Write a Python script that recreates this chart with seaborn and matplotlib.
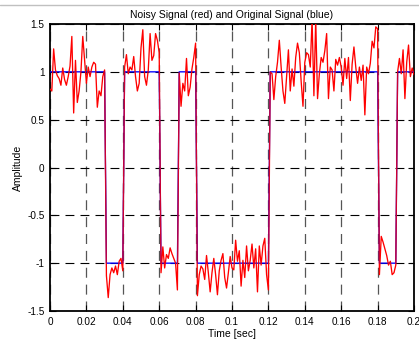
import numpy as np
import pandas as pd
import matplotlib
matplotlib.use("Agg")
import matplotlib.pyplot as plt
import seaborn as sns
from matplotlib.lines import Line2D

# ---------------- data ----------------
time_sec = np.linspace(0.0, 0.2, 201)

noisy_amplitude = [
    0.82, 0.80, 1.24, 1.02, 0.96, 0.93, 0.86, 1.04, 0.92, 0.86, 0.95, 1.06, 1.37, 0.57, 1.12, 0.68,
    0.80, 1.00, 1.37, 1.12, 0.88, 1.05, 0.95, 1.05, 1.10, 1.08, 0.63, 0.80, 0.75, 0.95, 1.02,
    -1.13, -1.36, -1.12, -1.05, -1.10, -1.03, -1.12, -0.98, -0.95, -1.08,
    1.05, 1.18, 0.98, 1.05, 1.02, 1.16, 0.95, 0.80, 0.88, 1.25, 1.44, 0.95, 0.86, 1.02, 1.40, 1.12,
    1.17, 1.40, 1.33, 1.20,
    -1.10, -0.83, -1.05, -0.91, -0.95, -0.84, -0.90, -0.95, -1.00, -1.28,
    0.99, 0.64, 0.88, 0.80, 1.14, 0.75, 0.84, 1.03, 1.15, 1.30,
    -1.34, -1.12, -1.03, -1.06, -1.17, -0.92, -1.10, -1.30, -1.10, -0.95, -1.12, -1.33, -1.08, -0.97,
    -0.90, -1.15, -1.26, -1.10, -0.93, -1.05, -1.07, -0.76, -0.98, -0.87, -1.24, -0.97, -1.15, -0.82,
    -1.08, -0.97, -0.80, -1.05, -0.85, -1.30, -0.82, -1.02, -0.82, -0.74, -1.12, -1.28,
    1.00, 0.98, 0.71, 0.95, 1.10, 1.33, 1.05, 0.80, 0.67, 0.95, 1.23, 0.80, 1.03, 0.85, 1.15, 1.30,
    1.20, 0.90, 0.64, 1.10, 1.20, 1.18, 1.05,
    1.55, 0.75, 1.55, 0.72, 0.98, 1.15, 1.10, 1.22, 1.40, 0.72, 1.05, 1.02, 0.80, 1.13, 1.07, 1.15,
    1.05, 0.86, 1.14, 0.93, 1.15, 0.70, 1.08, 1.26, 1.05, 0.88, 1.05, 0.91, 1.07, 0.55, 1.05, 0.98,
    1.09, 1.32, 1.25, 1.47, 1.45,
    -1.12, -0.72, -0.78, -0.85, -0.92, -1.02, -0.98, -1.12, -1.10, -1.02,
    1.00, 1.14, 0.98, 1.23, 0.72, 1.10, 1.28, 0.95, 1.04, 0.97,
]

original_t = [0.0, 0.030, 0.031, 0.040, 0.041, 0.060, 0.061, 0.070, 0.071, 0.080,
              0.081, 0.120, 0.121, 0.180, 0.181, 0.190, 0.191, 0.200]
original_v = [1, 1, -1, -1, 1, 1, -1, -1, 1, 1, -1, -1, 1, 1, -1, -1, 1, 1]

x_ticks = [0, 0.02, 0.04, 0.06, 0.08, 0.1, 0.12, 0.14, 0.16, 0.18, 0.2]
x_tick_labels = ["0", "0.02", "0.04", "0.06", "0.08", "0.1", "0.12", "0.14", "0.16", "0.18", "0.2"]
y_ticks = [-1.5, -1, -0.5, 0, 0.5, 1, 1.5]
y_tick_labels = ["-1.5", "-1", "-0.5", "0", "0.5", "1", "1.5"]

noisy_df = pd.DataFrame({"t": time_sec, "v": noisy_amplitude})
orig_df = pd.DataFrame({"t": original_t, "v": original_v})

# ---------------- style ----------------
sns.set_theme(style="white")
plt.rcParams["font.family"] = ["Liberation Sans", "DejaVu Sans"]

fig = plt.figure(figsize=(4.19, 3.41), dpi=100)
fig.patch.set_facecolor("white")
ax = fig.add_axes([50 / 419, 1 - 311 / 341, 364 / 419, 287 / 341])

# blue underneath, red noisy, then translucent blue on top (gives crimson edges)
sns.lineplot(data=orig_df, x="t", y="v", ax=ax, color="blue", linewidth=0.9,
             estimator=None, sort=False, zorder=3)
sns.lineplot(data=noisy_df, x="t", y="v", ax=ax, color="red", linewidth=0.95,
             estimator=None, sort=False, zorder=4)
sns.lineplot(data=orig_df, x="t", y="v", ax=ax, color="blue", linewidth=0.9,
             estimator=None, sort=False, alpha=0.2, zorder=5)

ax.set_xlim(0, 0.2)
ax.set_ylim(-1.5, 1.5)
ax.set_xticks(x_ticks)
ax.set_xticklabels(x_tick_labels)
ax.set_yticks(y_ticks)
ax.set_yticklabels(y_tick_labels)

ax.xaxis.grid(True, color="#555555", linestyle=(0, (8, 5.5)), linewidth=0.9)
ax.yaxis.grid(True, color="black", linestyle=(0, (8, 5.5)), linewidth=0.8)
ax.set_axisbelow(True)

for sp in ax.spines.values():
    sp.set_visible(True)
    sp.set_color("black")
    sp.set_linewidth(1.3)

ax.tick_params(axis="both", which="both", direction="in", length=4, width=0.8,
               colors="black", labelsize=7.2, top=True, right=True,
               bottom=True, left=True, pad=4)

ax.set_title("Noisy Signal (red) and Original Signal (blue)", fontsize=7.5, pad=4, color="black")
ax.set_xlabel("Time [sec]", fontsize=7.5, labelpad=2, color="black")
ax.set_ylabel("Amplitude", fontsize=7.5, labelpad=3, color="black")

fig.add_artist(Line2D([0, 1], [1 - 5 / 341, 1 - 5 / 341], transform=fig.transFigure,
                      color="#c0c0c0", linewidth=1.0))

fig.savefig("out.png", dpi=100)
